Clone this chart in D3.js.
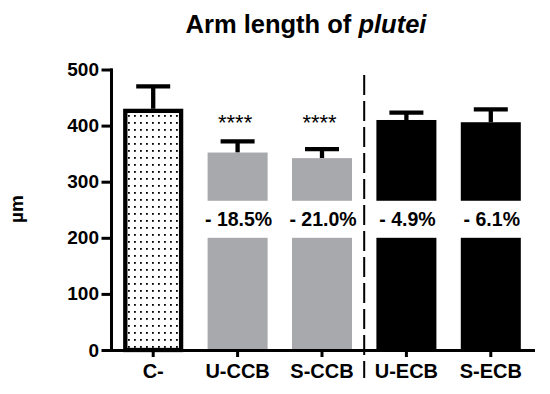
<!DOCTYPE html>
<html>
<head>
<meta charset="utf-8">
<script src="https://cdn.jsdelivr.net/npm/d3@7"></script>
<style>
  html, body { margin: 0; padding: 0; background: #fff; }
  svg { display: block; font-family: "Liberation Sans", Arial, Helvetica, sans-serif; }
</style>
</head>
<body>
<svg id="chart" width="550" height="394"></svg>
<script>
// ---- data ----
const categories = ["C-", "U-CCB", "S-CCB", "U-ECB", "S-ECB"];
const means = [430, 352, 342, 410, 406];
const errUpper = [470, 372, 358, 423, 429];
const pctLabels = ["", "- 18.5%", "- 21.0%", "- 4.9%", "- 6.1%"];
const sigLabels = ["", "****", "****", "", ""];
const yTicks = [0, 100, 200, 300, 400, 500];
const groupFill = ["dots", "grey", "grey", "black", "black"];
const breakRange = [200, 266];   // white gap carrying the % labels
const dividerTop = 490;

const svg = d3.select("#chart");
const colors = { grey: "#a7a9ac", black: "#000000" };

// pattern for control bar
const defs = svg.append("defs");
const pat = defs.append("pattern").attr("id", "dots")
  .attr("patternUnits", "userSpaceOnUse").attr("width", 6).attr("height", 7);
pat.append("rect").attr("width", 6).attr("height", 7).attr("fill", "#fff");
pat.append("rect").attr("x", 2).attr("y", 3).attr("width", 1.8).attr("height", 1.8).attr("fill", "#000");

const x = d3.scaleBand().domain(categories).range([111, 533]).paddingInner(0.289).paddingOuter(0.1445);
const y = d3.scaleLinear().domain([0, 500]).range([350, 69.5]);

const data = categories.map((c, i) => ({ c, i, m: means[i], e: errUpper[i], f: groupFill[i], p: pctLabels[i], s: sigLabels[i] }));

// title
svg.append("text").attr("x", 306).attr("y", 33).attr("text-anchor", "middle")
  .attr("font-size", 25.5).attr("font-weight", "bold")
  .call(t => {
    t.append("tspan").text("Arm length of ");
    t.append("tspan").attr("font-style", "italic").text("plutei");
  });

// y label
svg.append("text").attr("transform", "translate(23,209) rotate(-90)")
  .attr("text-anchor", "middle").attr("font-size", 19).attr("font-weight", "bold").text("µm");

// error bars (stem + cap)
const eb = svg.append("g").attr("stroke", "#000").attr("stroke-width", 4.3);
eb.selectAll("line.stem").data(data).join("line")
  .attr("x1", d => x(d.c) + x.bandwidth() / 2).attr("x2", d => x(d.c) + x.bandwidth() / 2)
  .attr("y1", d => y(d.m)).attr("y2", d => y(d.e));
eb.selectAll("line.cap").data(data).join("line")
  .attr("x1", d => x(d.c) + x.bandwidth() / 2 - 17).attr("x2", d => x(d.c) + x.bandwidth() / 2 + 17)
  .attr("y1", d => y(d.e)).attr("y2", d => y(d.e));

// bars
svg.append("g").selectAll("rect").data(data).join("rect")
  .attr("x", d => d.f === "dots" ? x(d.c) + 2.1 : x(d.c))
  .attr("width", d => d.f === "dots" ? x.bandwidth() - 4.2 : x.bandwidth())
  .attr("y", d => d.f === "dots" ? y(d.m) + 2.1 : y(d.m))
  .attr("height", d => d.f === "dots" ? y(0) - y(d.m) - 2.1 : y(0) - y(d.m))
  .attr("fill", d => d.f === "dots" ? "url(#dots)" : colors[d.f])
  .attr("stroke", d => d.f === "dots" ? "#000" : "none")
  .attr("stroke-width", 4.3);

// white gaps with percent labels
const gapped = data.filter(d => d.p);
svg.append("g").selectAll("rect").data(gapped).join("rect")
  .attr("x", d => x(d.c) - 1).attr("width", x.bandwidth() + 2)
  .attr("y", y(breakRange[1])).attr("height", y(breakRange[0]) - y(breakRange[1]))
  .attr("fill", "#fff");
svg.append("g").selectAll("text").data(gapped).join("text")
  .attr("x", d => x(d.c) + x.bandwidth() / 2 + 1).attr("y", 225.7)
  .attr("text-anchor", "middle").attr("font-size", 19.5).attr("font-weight", "bold")
  .text(d => d.p);

// significance stars
svg.append("g").selectAll("text").data(data.filter(d => d.s)).join("text")
  .attr("x", d => x(d.c) + x.bandwidth() / 2 - 2.5).attr("y", 129.5)
  .attr("text-anchor", "middle").attr("font-size", 22)
  .text(d => d.s);

// divider
const divX = (x(categories[2]) + x.bandwidth() + x(categories[3])) / 2;
svg.append("line").attr("x1", divX).attr("x2", divX)
  .attr("y1", y(dividerTop)).attr("y2", y(0) + 28)
  .attr("stroke", "#000").attr("stroke-width", 2).attr("stroke-dasharray", "20,6");

// axes
const yAxis = svg.append("g").attr("transform", `translate(${x.range()[0]},0)`)
  .call(d3.axisLeft(y).tickValues(yTicks).tickSize(8).tickSizeOuter(0).tickPadding(4));
const xAxis = svg.append("g").attr("transform", `translate(0,${y(0)})`)
  .call(d3.axisBottom(x).tickSize(7).tickSizeOuter(0).tickPadding(7));

[yAxis, xAxis].forEach(a => {
  a.selectAll("path.domain").attr("stroke-width", 3).attr("stroke-linecap", "square");
  a.selectAll(".tick line").attr("stroke-width", 3);
});
yAxis.selectAll(".tick line").attr("stroke-linecap", "square");
yAxis.selectAll("text").attr("font-size", 19).attr("font-weight", "bold")
  .attr("font-family", "'Liberation Sans', Arial, sans-serif").attr("fill", "#000");
xAxis.selectAll("text").attr("font-size", 20).attr("font-weight", "bold")
  .attr("font-family", "'Liberation Sans', Arial, sans-serif").attr("fill", "#000");
</script>
</body>
</html>
